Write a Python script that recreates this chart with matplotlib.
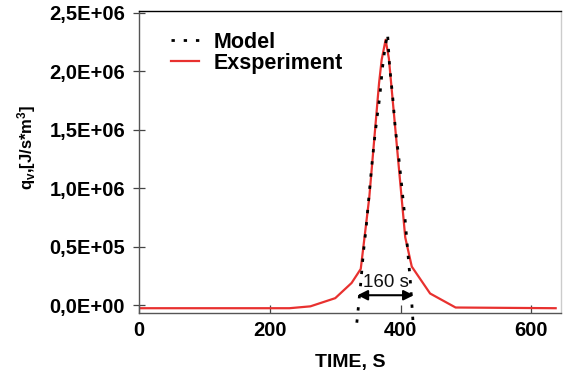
import matplotlib
matplotlib.use("Agg")
import matplotlib.pyplot as plt

plt.rcParams['font.family'] = ['Liberation Sans', 'DejaVu Sans']
plt.rcParams['mathtext.fontset'] = 'custom'
plt.rcParams['mathtext.rm'] = 'Liberation Sans:bold'
plt.rcParams['mathtext.it'] = 'Liberation Sans:bold'
plt.rcParams['mathtext.bf'] = 'Liberation Sans:bold'
plt.rcParams['mathtext.default'] = 'rm'

# Data (time in s, q in 1E6 J/s*m^3)
exp_t = [0, 230, 262, 300, 325, 339, 352, 367, 371, 377, 382, 407, 417, 445, 484, 637]
exp_q = [-0.026, -0.026, -0.01, 0.06, 0.19, 0.31, 0.92, 1.90, 2.10, 2.27, 2.11, 0.58, 0.33, 0.10, -0.02, -0.026]

model_t = [333, 339, 343, 347, 352, 356, 360, 364, 368, 372, 376, 380, 383, 388, 392, 397, 402, 407, 411, 415, 419]
model_q = [-0.15, 0.19, 0.45, 0.65, 0.96, 1.20, 1.42, 1.61, 1.78, 2.02, 2.20, 2.32, 2.05, 1.77, 1.50, 1.27, 1.00, 0.72, 0.45, 0.19, -0.15]

yticks = [0, 0.5, 1.0, 1.5, 2.0, 2.5]
ytick_labels = ['0,0E+00', '0,5E+05', '1,0E+06', '1,5E+06', '2,0E+06', '2,5E+06']
xticks = [0, 200, 400, 600]

fig = plt.figure(figsize=(5.64, 3.75), dpi=100)
ax = fig.add_axes([0.2465, 0.165, 0.748, 0.806])

ax.plot(model_t, model_q, color='black', linestyle=(0, (1.2, 3.2)), linewidth=2.0,
        label='Model', clip_on=False, zorder=3)
ax.plot(exp_t, exp_q, color='#e8312f', linewidth=1.6, label='Exsperiment', zorder=2)

ax.set_xlim(0, 645)
ax.set_ylim(-0.068, 2.517)
ax.set_xticks(xticks)
ax.set_xticklabels([str(v) for v in xticks], fontsize=14.5, fontweight='bold')
ax.set_yticks(yticks)
ax.set_yticklabels(ytick_labels, fontsize=14.5, fontweight='bold')
ax.tick_params(axis='y', direction='inout', length=8, width=0.9, color='#444444', pad=6)
ax.tick_params(axis='x', direction='in', length=6, width=0.9, color='#444444', pad=6)

for side in ['left', 'bottom']:
    ax.spines[side].set_color('#555555')
    ax.spines[side].set_linewidth(1.0)
ax.spines['top'].set_color('black')
ax.spines['top'].set_linewidth(1.0)
ax.spines['right'].set_color('#cccccc')
ax.spines['right'].set_linewidth(1.0)

ax.set_xlabel('TIME, S', fontsize=14, fontweight='bold', labelpad=10)
ax.set_ylabel('q$_{v}$,[J/s*m$^{3}$]', fontsize=12, fontweight='bold')
ax.yaxis.set_label_coords(-0.24, 0.55)

ax.annotate('', xy=(334, 0.085), xytext=(420, 0.085),
            arrowprops=dict(arrowstyle='<|-|>', color='black', lw=1.5,
                            mutation_scale=15, shrinkA=0, shrinkB=0))
ax.text(378, 0.19, '160 s', fontsize=13.5, ha='center', va='center', color='#111111')

leg = ax.legend(loc='upper left', bbox_to_anchor=(0.055, 0.96), frameon=False,
                prop={'size': 15.5, 'weight': 'bold'}, handlelength=1.3,
                handletextpad=0.7, labelspacing=0.0, borderaxespad=0)

fig.savefig('out.png', dpi=100)
